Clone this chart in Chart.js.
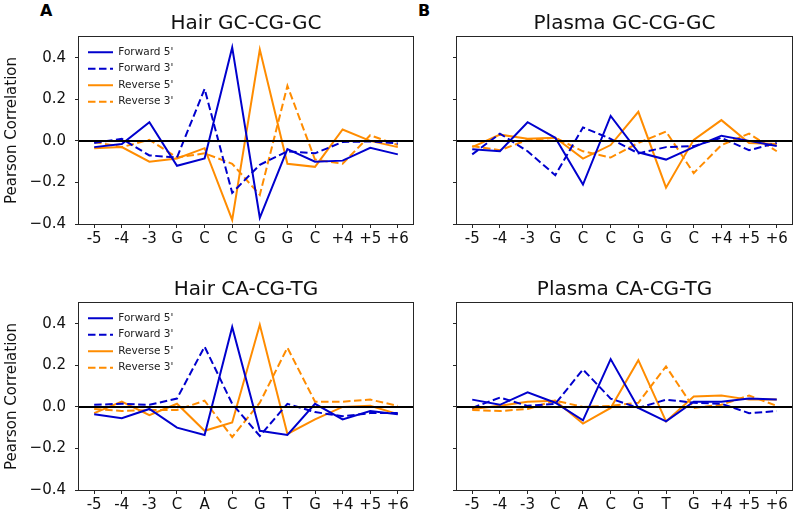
<!DOCTYPE html>
<html>
<head>
<meta charset="utf-8">
<script src="https://cdn.jsdelivr.net/npm/chart.js@4"></script>
<style>
body{margin:0;background:#fff;width:794px;height:518px;overflow:hidden;position:relative;}
canvas{position:absolute;}
.tag{position:absolute;font:bold 16px "DejaVu Sans",sans-serif;line-height:16px;color:#000;}
</style>
</head>
<body>
<div class="tag" style="left:40px;top:3px">A</div>
<div class="tag" style="left:418px;top:3px">B</div>
<canvas id="hairGC" width="420" height="252" style="left:0;top:0"></canvas>
<canvas id="plasmaGC" width="374" height="252" style="left:420px;top:0"></canvas>
<canvas id="hairCA" width="420" height="252" style="left:0;top:266px"></canvas>
<canvas id="plasmaCA" width="374" height="252" style="left:420px;top:266px"></canvas>
<script>
const catsGC = ['-5','-4','-3','G','C','C','G','G','C','+4','+5','+6'];
const catsCA = ['-5','-4','-3','C','A','C','G','T','G','+4','+5','+6'];
const yTicks = [-0.4, -0.2, 0.0, 0.2, 0.4];
const seriesNames = ["Forward 5'", "Forward 3'", "Reverse 5'", "Reverse 3'"];

// Hair GC-CG-GC
const hairGC_fwd5 = [-0.03,-0.015,0.09,-0.12,-0.085,0.45,-0.37,-0.04,-0.1,-0.095,-0.033,-0.065];
const hairGC_fwd3 = [-0.01,0.01,-0.07,-0.08,0.25,-0.25,-0.115,-0.05,-0.06,-0.005,-0.003,-0.012];
const hairGC_rev5 = [-0.035,-0.03,-0.1,-0.085,-0.035,-0.38,0.44,-0.11,-0.125,0.055,0.0,-0.03];
const hairGC_rev3 = [-0.005,-0.03,0.005,-0.08,-0.06,-0.11,-0.26,0.265,-0.09,-0.11,0.027,-0.02];

// Plasma GC-CG-GC
const plasmaGC_fwd5 = [-0.04,-0.05,0.09,0.015,-0.21,0.12,-0.055,-0.09,-0.03,0.025,0.0,-0.025];
const plasmaGC_fwd3 = [-0.065,0.035,-0.05,-0.165,0.065,0.01,-0.06,-0.03,-0.025,0.015,-0.045,-0.01];
const plasmaGC_rev5 = [-0.03,0.03,0.01,0.015,-0.085,-0.02,0.14,-0.225,0.005,0.1,-0.01,-0.015];
const plasmaGC_rev3 = [-0.025,-0.045,0.005,0.015,-0.05,-0.08,-0.01,0.045,-0.155,-0.02,0.035,-0.05];

// Hair CA-CG-TG
const hairCA_fwd5 = [-0.035,-0.055,-0.01,-0.1,-0.135,0.385,-0.115,-0.135,0.015,-0.06,-0.02,-0.035];
const hairCA_fwd3 = [0.01,0.015,0.01,0.04,0.29,0.015,-0.14,0.015,-0.025,-0.045,-0.03,-0.03];
const hairCA_rev5 = [-0.03,0.025,-0.04,0.015,-0.115,-0.075,0.395,-0.13,-0.06,0.0,0.005,-0.035];
const hairCA_rev3 = [-0.01,-0.02,-0.015,-0.015,0.03,-0.145,0.02,0.285,0.025,0.025,0.035,0.005];

// Plasma CA-CG-TG
const plasmaCA_fwd5 = [0.035,0.01,0.07,0.02,-0.065,0.23,-0.005,-0.07,0.025,0.025,0.04,0.035];
const plasmaCA_fwd3 = [-0.005,0.045,0.005,0.015,0.18,0.04,-0.005,0.035,0.02,0.015,-0.03,-0.02];
const plasmaCA_rev5 = [-0.01,0.005,0.025,0.03,-0.08,-0.005,0.225,-0.07,0.05,0.055,0.035,0.035];
const plasmaCA_rev3 = [-0.015,-0.02,-0.01,0.03,0.0,0.005,0.02,0.195,-0.005,0.01,0.055,0.005];

const FONT = '"DejaVu Sans", sans-serif';
const BLUE = '#0000cd', ORANGE = '#ff8c00';
const styles = [
  {color: BLUE, dash: []},
  {color: BLUE, dash: [7.5, 3.5]},
  {color: ORANGE, dash: []},
  {color: ORANGE, dash: [7.5, 3.5]}
];

const framePlugin = {
  id: 'frame',
  afterLayout(chart) {
    // put the legend in the upper left corner of the plot box
    if (chart.legend && chart.options.plugins.legend.display) {
      chart.legend.left = chart.chartArea.left + 3;
      chart.legend.top = chart.chartArea.top + 4;
    }
  },
  afterDatasetsDraw(chart) {
    const {ctx, chartArea: a, scales: {y}} = chart;
    const y0 = y.getPixelForValue(0);
    ctx.save();
    ctx.strokeStyle = '#000';
    ctx.lineWidth = 2;
    ctx.beginPath();
    ctx.moveTo(a.left, y0);
    ctx.lineTo(a.right, y0);
    ctx.stroke();
    ctx.restore();
  },
  afterDraw(chart) {
    const {ctx, chartArea: a} = chart;
    ctx.save();
    ctx.strokeStyle = '#262626';
    ctx.lineWidth = 1;
    ctx.strokeRect(Math.round(a.left) - 0.5, Math.round(a.top) - 0.5,
      Math.round(a.right - a.left) + 1, Math.round(a.bottom - a.top) + 1);
    ctx.restore();
  }
};

function legendLabels(chart) {
  const items = Chart.defaults.plugins.legend.labels.generateLabels(chart);
  items.forEach(it => {
    const ds = chart.data.datasets[it.datasetIndex];
    it.lineDash = ds.borderDash;
    it.lineWidth = 2;
    it.strokeStyle = ds.borderColor;
    it.fillStyle = ds.borderColor;
  });
  return items;
}

function makeChart(id, title, cats, series, isLeft) {
  new Chart(document.getElementById(id), {
    type: 'line',
    data: {
      datasets: series.map((vals, k) => ({
        label: seriesNames[k],
        data: vals.map((v, i) => ({x: i, y: v})),
        borderColor: styles[k].color,
        backgroundColor: styles[k].color,
        borderDash: styles[k].dash,
        borderWidth: 2,
        pointRadius: 0,
        tension: 0,
        fill: false
      }))
    },
    options: {
      responsive: false,
      animation: false,
      layout: {padding: {left: 0, right: isLeft ? 7 : 2, top: 0, bottom: 0}},
      plugins: {
        title: {
          display: true,
          text: title,
          fullSize: false,
          color: '#111',
          font: {size: 20, family: FONT, weight: 'normal'},
          padding: {top: 12, bottom: 1}
        },
        legend: {
          display: isLeft,
          position: 'chartArea',
          align: 'start',
          labels: {
            usePointStyle: true,
            pointStyle: 'line',
            pointStyleWidth: 25,
            boxHeight: 10,
            padding: 6,
            color: '#222',
            font: {size: 10.5, family: FONT},
            generateLabels: legendLabels
          }
        },
        tooltip: {enabled: false}
      },
      scales: {
        x: {
          type: 'linear',
          min: -0.55,
          max: 11.55,
          afterBuildTicks: s => { s.ticks = cats.map((c, i) => ({value: i})); },
          afterFit: s => { s.height = 28; },
          ticks: {
            callback: v => cats[v],
            autoSkip: false,
            maxRotation: 0,
            padding: 2,
            color: '#111',
            font: {size: 15, family: FONT}
          },
          grid: {drawOnChartArea: false, tickLength: 4, color: '#262626'},
          border: {display: false}
        },
        y: {
          min: -0.4,
          max: 0.5,
          afterBuildTicks: s => { s.ticks = yTicks.map(v => ({value: v})); },
          afterFit: s => { s.width = isLeft ? 79 : 37; },
          ticks: {
            display: isLeft,
            callback: v => v.toFixed(1).replace('-', '\u2212'),
            padding: 9,
            color: '#111',
            font: {size: 15, family: FONT}
          },
          grid: {drawOnChartArea: false, tickLength: 4, color: '#262626'},
          border: {display: false},
          title: {
            display: isLeft,
            text: 'Pearson Correlation',
            color: '#111',
            font: {size: 15, family: FONT},
            padding: {top: 3, bottom: 0}
          }
        }
      }
    },
    plugins: [framePlugin]
  });
}

makeChart('hairGC', 'Hair GC-CG-GC', catsGC, [hairGC_fwd5, hairGC_fwd3, hairGC_rev5, hairGC_rev3], true);
makeChart('plasmaGC', 'Plasma GC-CG-GC', catsGC, [plasmaGC_fwd5, plasmaGC_fwd3, plasmaGC_rev5, plasmaGC_rev3], false);
makeChart('hairCA', 'Hair CA-CG-TG', catsCA, [hairCA_fwd5, hairCA_fwd3, hairCA_rev5, hairCA_rev3], true);
makeChart('plasmaCA', 'Plasma CA-CG-TG', catsCA, [plasmaCA_fwd5, plasmaCA_fwd3, plasmaCA_rev5, plasmaCA_rev3], false);
</script>
</body>
</html>
